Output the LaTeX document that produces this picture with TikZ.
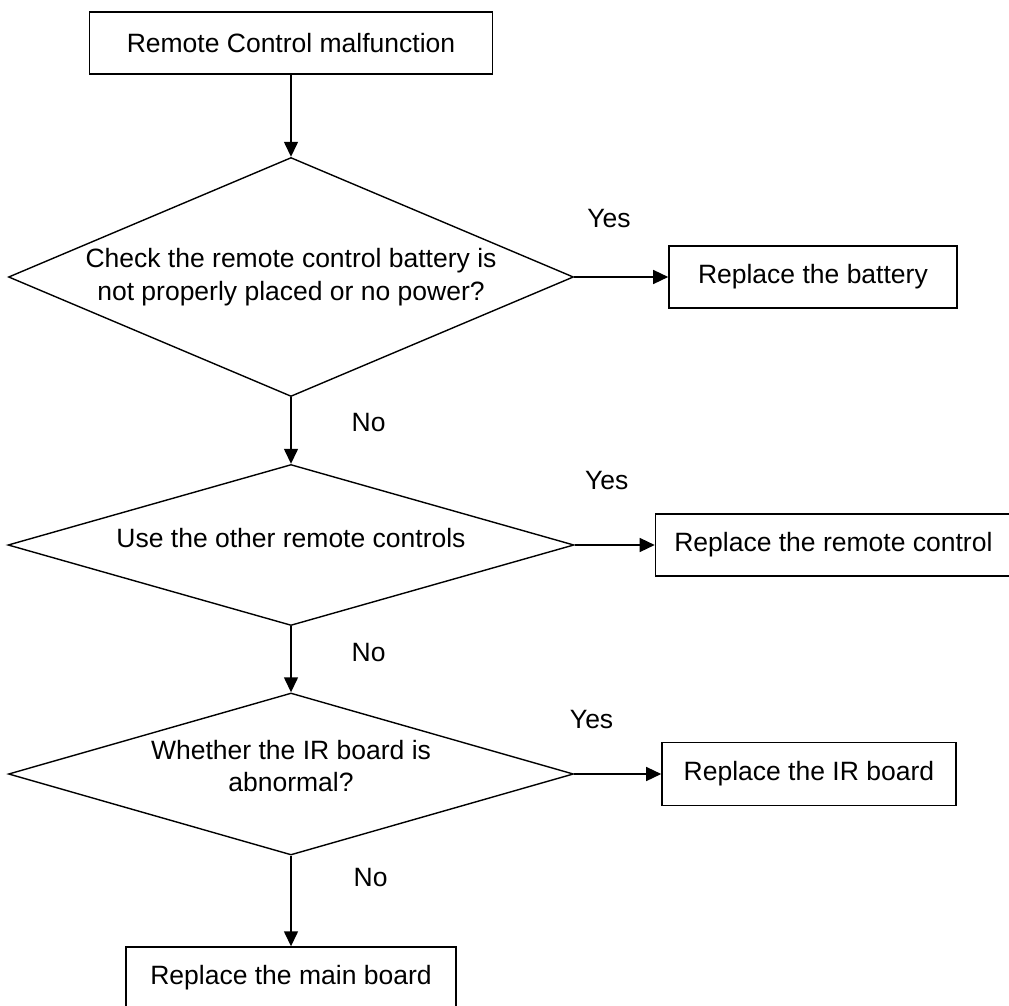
\documentclass[tikz,border=0pt]{standalone}
\usepackage{fontspec}
\setmainfont{Liberation Sans}
\usetikzlibrary{arrows.meta,positioning,shapes.geometric}
\tikzset{
  stepbox/.style={draw,line width=1.4pt,rectangle,inner sep=0pt,minimum height=62pt,align=center,font=\fontsize{26.5}{32.5}\selectfont},
  decision/.style={draw,line width=1.4pt,diamond,inner sep=0pt,align=center,font=\fontsize{26.5}{32.5}\selectfont},
  flowarrow/.style={-{Triangle[length=15pt,width=14pt]},line width=1.4pt},
  answer/.style={inner sep=0pt,font=\fontsize{26.5}{32.5}\selectfont}
}

\begin{document}
\begin{tikzpicture}[x=1pt,y=-1pt]
  \useasboundingbox (0,0) rectangle (1009,1006);
  % main chain
  \node[stepbox,minimum width=403pt] (start) at (291,43) {Remote Control malfunction};
  \node[decision,shape aspect=2.4,minimum width=565pt,minimum height=239pt] (battery) at (291,277) {Check the remote control battery is\\not properly placed or no power?};
  \node[decision,shape aspect=3.5,minimum width=566pt,minimum height=161pt,text depth=14pt] (other) at (291,545) {Use the other remote controls};
  \node[decision,shape aspect=3.5,minimum width=565pt,minimum height=162pt,text depth=16pt] (irboard) at (291,774) {Whether the IR board is\\abnormal?};
  \node[stepbox,minimum width=330pt] (mainboard) at (291,978) {Replace the main board};
  % replacements
  \node[stepbox,right=94pt of battery,minimum width=288pt] (newbattery) {Replace the battery};
  \node[stepbox,right=80pt of other,minimum width=356pt] (newremote) {Replace the remote control};
  \node[stepbox,right=87pt of irboard,minimum width=294pt,minimum height=63pt] (newir) {Replace the IR board};
  % connectors
  \draw[flowarrow] (start) -- (battery);
  \draw[flowarrow] (battery) -- node[answer,pos=0.38,right=60pt] (no1) {No} (other);
  \draw[flowarrow] (other) -- node[answer,pos=0.4,right=60pt] (no2) {No} (irboard);
  \draw[flowarrow] (irboard) -- node[answer,pos=0.24,right=62pt] (no3) {No} (mainboard);
  \draw[flowarrow] (battery.east) -- node[answer,pos=0.37,above=49pt] (yes1) {Yes} (newbattery.west);
  \draw[flowarrow] (other.east) -- node[answer,pos=0.4,above=55pt] (yes2) {Yes} (newremote.west);
  \draw[flowarrow] (irboard.east) -- node[answer,pos=0.2,above=45pt] (yes3) {Yes} (newir.west);
\end{tikzpicture}
\end{document}
